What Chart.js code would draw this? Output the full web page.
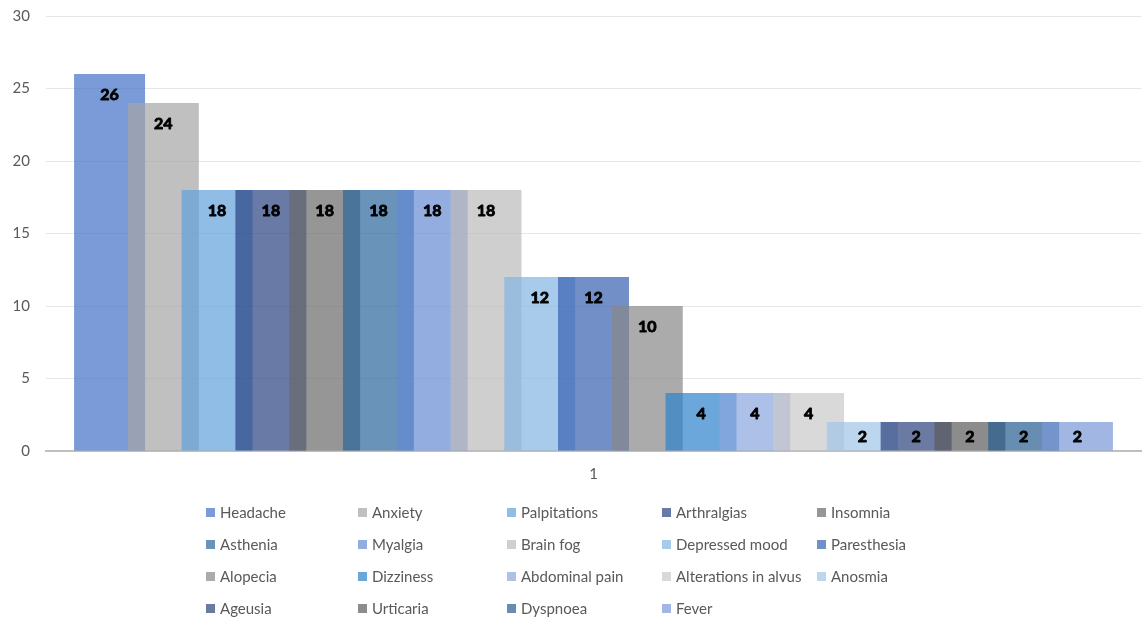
<!DOCTYPE html>
<html>
<head>
<meta charset="utf-8">
<title>Symptoms</title>
<script src="https://cdn.jsdelivr.net/npm/chart.js@4/dist/chart.umd.min.js"></script>
<style>
  html, body { margin: 0; padding: 0; background: #fff; }
  #wrap { position: relative; width: 1147px; height: 618px; overflow: hidden; }
  #chart { position: absolute; left: 0; top: 0; }
  .lg { position: absolute; display: flex; align-items: center; font: 15px Lato, "Open Sans", sans-serif; color: #595959; white-space: nowrap; transform: translateY(-50%); }
  .lg i { display: inline-block; width: 9px; height: 9px; margin-right: 5px; }
</style>
</head>
<body>
<div id="wrap">
  <canvas id="chart" width="1147" height="618"></canvas>
  <div id="legend"></div>
</div>
<script>
// Single category, one series per symptom
const categories = ['1'];
const symptoms = [
  'Headache', 'Anxiety', 'Palpitations', 'Arthralgias', 'Insomnia',
  'Asthenia', 'Myalgia', 'Brain fog', 'Depressed mood', 'Paresthesia',
  'Alopecia', 'Dizziness', 'Abdominal pain', 'Alterations in alvus', 'Anosmia',
  'Ageusia', 'Urticaria', 'Dyspnoea', 'Fever'
];
const counts = [26, 24, 18, 18, 18, 18, 18, 18, 12, 12, 10, 4, 4, 4, 2, 2, 2, 2, 2];
const yMax = 30;
const yStep = 5;

// Colour of each bar as it appears on white; bars are semi-transparent
const seenColors = [
  [123, 155, 215], [192, 192, 192], [143, 189, 230], [106, 123, 166], [150, 150, 150],
  [106, 147, 184], [147, 173, 224], [207, 207, 207], [169, 203, 235], [115, 144, 200],
  [172, 172, 172], [109, 167, 220], [173, 192, 232], [217, 217, 217], [188, 214, 240],
  [107, 122, 163], [140, 140, 140], [104, 141, 176], [162, 182, 227]
];
const ALPHA = 0.7;
function fillFor(rgb) {
  const c = rgb.map(v => Math.max(0, Math.min(255, Math.round((v - 255 * (1 - ALPHA)) / ALPHA))));
  return `rgba(${c[0]},${c[1]},${c[2]},${ALPHA})`;
}

const datasets = symptoms.map((name, i) => ({
  label: name,
  data: [counts[i]],
  backgroundColor: fillFor(seenColors[i]),
  borderWidth: 0,
  categoryPercentage: 0.933,
  barPercentage: 1.32
}));

// Later series sit on top of earlier ones where the bars overlap
const drawInIndexOrder = {
  id: 'drawInIndexOrder',
  beforeDatasetsDraw(chart) {
    const metas = chart.getSortedVisibleDatasetMetas();
    const ctx = chart.ctx, a = chart.chartArea;
    ctx.save();
    ctx.beginPath();
    ctx.rect(a.left, a.top, a.right - a.left, a.bottom - a.top);
    ctx.clip();
    metas.forEach(m => m.controller.draw());
    ctx.restore();
    return false;
  }
};

// Value labels inside the top of each bar
const valueLabels = {
  id: 'valueLabels',
  afterDraw(chart) {
    const ctx = chart.ctx;
    ctx.save();
    ctx.font = 'bold 16px Lato, "DejaVu Sans", sans-serif';
    ctx.fillStyle = '#000';
    ctx.strokeStyle = '#000';
    ctx.lineWidth = 0.9;
    ctx.lineJoin = 'round';
    ctx.textAlign = 'center';
    ctx.textBaseline = 'middle';
    chart.data.datasets.forEach((ds, i) => {
      const meta = chart.getDatasetMeta(i);
      meta.data.forEach((bar, j) => {
        const v = ds.data[j];
        const y = Math.min(bar.y + 20, (bar.y + bar.base) / 2) + 1;
        ctx.fillText(String(v), bar.x, y);
        ctx.strokeText(String(v), bar.x, y);
      });
    });
    ctx.restore();
  }
};

const chart = new Chart(document.getElementById('chart'), {
  type: 'bar',
  data: { labels: categories, datasets },
  options: {
    responsive: false,
    animation: false,
    events: [],
    layout: { padding: { top: 16, right: 6, bottom: 127, left: 0 } },
    plugins: { legend: { display: false }, tooltip: { enabled: false } },
    scales: {
      x: {
        grid: { display: false, drawTicks: false },
        border: { display: true, color: '#bfbfbf', width: 2 },
        ticks: { color: '#595959', font: { family: 'Lato', size: 15 }, padding: 14 },
        afterFit(s) { s.height = 40; }
      },
      y: {
        min: 0, max: yMax,
        grid: {
          drawTicks: false,
          color: ctx => ctx.tick && ctx.tick.value === 0 ? 'rgba(0,0,0,0)' : '#e6e6e6',
          lineWidth: 1
        },
        border: { display: false },
        ticks: { stepSize: yStep, color: '#595959', font: { family: 'Lato', size: 15 }, padding: 16 },
        afterFit(s) { s.width = 46; s.paddingTop = 0; s.paddingBottom = 0; }
      }
    }
  },
  plugins: [drawInIndexOrder, valueLabels]
});

// Legend laid out in five columns
const legendCols = [206, 358, 507, 662, 817];
const legendRows = [512, 544, 576, 608];
const legend = document.getElementById('legend');
chart.data.datasets.forEach((ds, i) => {
  const item = document.createElement('div');
  item.className = 'lg';
  item.style.left = legendCols[i % 5] + 'px';
  item.style.top = legendRows[Math.floor(i / 5)] + 'px';
  const box = document.createElement('i');
  box.style.background = ds.backgroundColor;
  item.appendChild(box);
  item.appendChild(document.createTextNode(ds.label));
  legend.appendChild(item);
});
</script>
</body>
</html>
